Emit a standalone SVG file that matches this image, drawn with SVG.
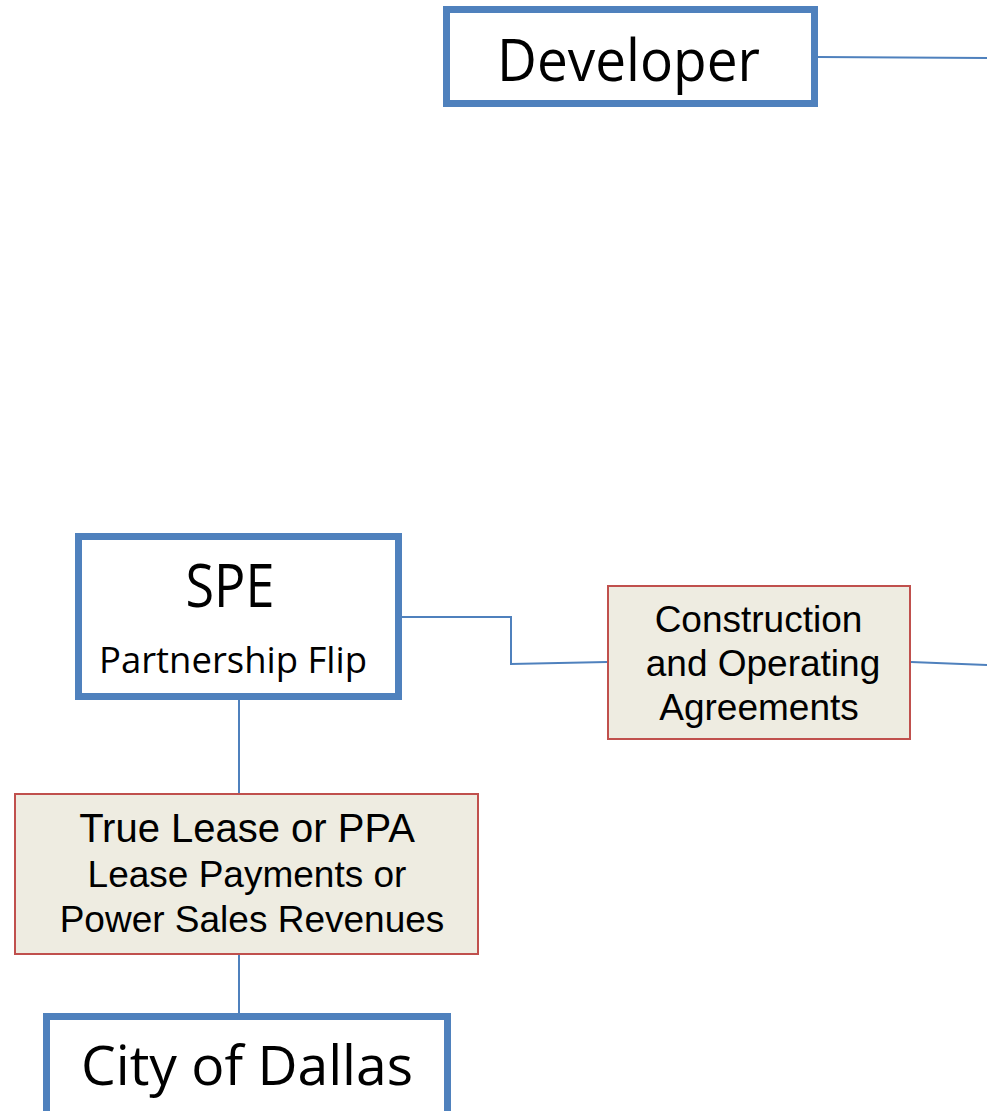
<svg xmlns="http://www.w3.org/2000/svg" width="987" height="1111" viewBox="0 0 987 1111">
<style>
.ent{fill:#FFFFFF;stroke:#4F81BD;stroke-width:7}
.agr{fill:#EEECE1;stroke:#C0504D;stroke-width:2}
.conn{fill:none;stroke:#4F81BD;stroke-width:2}
.cal{font-family:"Open Sans","Noto Sans","DejaVu Sans",sans-serif;fill:#000000;text-anchor:middle}
.ari{font-family:"Liberation Sans",Arial,sans-serif;fill:#000000;text-anchor:middle;font-size:37px}
</style>
<rect width="987" height="1111" fill="#FFFFFF"/>
<g id="connectors">
<path class="conn" d="M818,57 L987,58"/>
<path class="conn" d="M402,617 L511,617 L511,664 L607,662"/>
<path class="conn" d="M911,662 L987,665"/>
<path class="conn" d="M239,700 L239,793"/>
<path class="conn" d="M239,955 L239,1014"/>
</g>
<g id="developer">
<rect class="ent" x="446.5" y="9.5" width="368" height="94"/>
<text class="cal" x="628.5" y="81" font-size="59" textLength="263" lengthAdjust="spacingAndGlyphs">Developer</text>
</g>
<g id="spe">
<rect class="ent" x="78.5" y="536.5" width="320" height="160"/>
<text class="cal" x="230" y="607" font-size="60" textLength="89" lengthAdjust="spacingAndGlyphs">SPE</text>
<text class="cal" x="233" y="673" font-size="37" textLength="268" lengthAdjust="spacingAndGlyphs">Partnership Flip</text>
</g>
<g id="agreements">
<rect class="agr" x="608" y="586" width="302" height="153"/>
<text class="ari" x="758.5" y="632">Construction</text>
<text class="ari" x="763" y="676">and Operating</text>
<text class="ari" x="759" y="720">Agreements</text>
</g>
<g id="lease">
<rect class="agr" x="15" y="794" width="463" height="160"/>
<text class="ari" x="247" y="842" style="font-size:40px">True Lease or PPA</text>
<text class="ari" x="247" y="887">Lease Payments or</text>
<text class="ari" x="252" y="932">Power Sales Revenues</text>
</g>
<g id="city">
<rect class="ent" x="46.5" y="1016.5" width="401" height="98"/>
<text class="cal" x="247" y="1085" font-size="55" textLength="332" lengthAdjust="spacingAndGlyphs">City of Dallas</text>
</g>
</svg>
